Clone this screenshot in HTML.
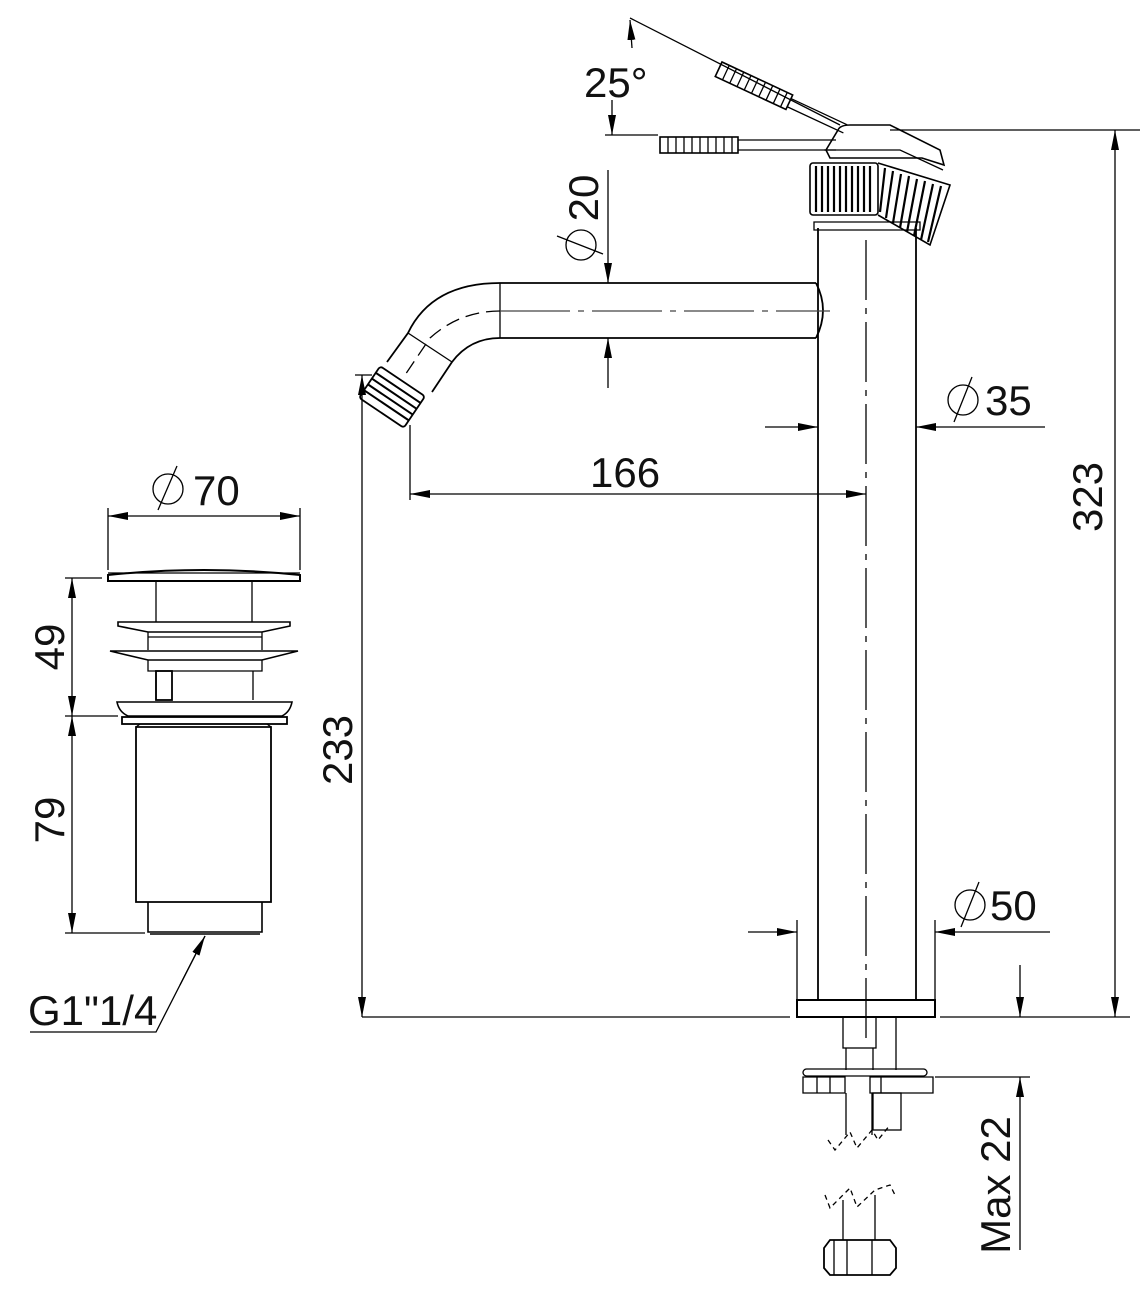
<!DOCTYPE html>
<html><head><meta charset="utf-8"><style>
html,body{margin:0;padding:0;background:#fff}
svg{display:block}
text{font-family:"Liberation Sans","DejaVu Sans",sans-serif;font-size:42px;fill:#111}
</style></head><body>
<svg width="1140" height="1292" viewBox="0 0 1140 1292" xmlns="http://www.w3.org/2000/svg">
<defs>
<marker id="a" viewBox="0 0 20 8" refX="20" refY="4" markerWidth="20" markerHeight="8" markerUnits="userSpaceOnUse" orient="auto-start-reverse"><path d="M0,0 L20,4 L0,8 Z" fill="#000"/></marker>
</defs>
<g fill="none" stroke="#000" stroke-width="1.3">

<!-- ===== Pop-up waste ===== -->
<path d="M108,581 L108,575 Q204,565 300,575 L300,581 Z" stroke-width="2"/>
<line x1="108" y1="573" x2="300" y2="573"/>
<line x1="156" y1="581" x2="156" y2="622"/><line x1="252" y1="581" x2="252" y2="622"/>
<path d="M118,622 L290,622 L290,626 L262,632 L148,632 L118,626 Z" stroke-width="1.6"/>
<path d="M148,632 L148,650 M262,632 L262,650 M148,637 L262,637"/>
<path d="M110,651 L298,651 L262,660 L148,660 Z" stroke-width="1.6"/>
<path d="M148,660 L148,671 L156,671 L156,700 M262,660 L262,671 L253,671 L253,700 M148,671 L262,671"/>
<rect x="156" y="671" width="16" height="29" stroke-width="1.8"/>
<path d="M117,702 L292,702 Q290,712 282,716 L128,716 Q119,712 117,702 Z" stroke-width="1.6"/>
<rect x="122" y="717" width="165" height="7" stroke-width="1.8"/>
<path d="M136,727 L136,902 L271,902 L271,727 Z" stroke-width="1.8"/>
<path d="M136,727 L140,724 M271,727 L267,724"/>
<path d="M148,902 L148,932 L262,932 L262,902" stroke-width="1.6"/>
<line x1="150" y1="934" x2="260" y2="934" stroke-width="1.5"/>

<!-- waste dims -->
<line x1="108" y1="508" x2="108" y2="570"/><line x1="300" y1="508" x2="300" y2="570"/>
<line x1="108" y1="516" x2="300" y2="516" marker-start="url(#a)" marker-end="url(#a)"/>
<circle cx="168" cy="489" r="15"/><line x1="158" y1="510" x2="177" y2="466"/>
<line x1="65" y1="578" x2="102" y2="578"/>
<line x1="65" y1="716" x2="118" y2="716"/>
<line x1="65" y1="933" x2="145" y2="933"/>
<line x1="72" y1="578" x2="72" y2="716" marker-start="url(#a)" marker-end="url(#a)"/>
<line x1="72" y1="716" x2="72" y2="933" marker-start="url(#a)" marker-end="url(#a)"/>
<polyline points="30,1032 156,1032 205,936"/>
<line x1="180" y1="985" x2="205" y2="936" marker-end="url(#a)"/>

<!-- ===== Tap body ===== -->
<line x1="818" y1="228" x2="818" y2="1000" stroke-width="1.8"/>
<line x1="916" y1="228" x2="916" y2="1000" stroke-width="1.8"/>
<line x1="866" y1="240" x2="866" y2="1040" stroke-dasharray="60,8,6,8"/>
<rect x="797" y="1000" width="138" height="17" stroke-width="2"/>
<path d="M814,222 L920,222 L920,230 L814,230 Z"/>
<!-- spout -->
<path d="M816,283 L500,283 Q432,283 408,333 L387,362" stroke-width="1.8"/>
<path d="M816,338 L500,338 Q470,338 452,362 L432,392" stroke-width="1.8"/>
<line x1="500" y1="283" x2="500" y2="338"/>
<line x1="408" y1="333" x2="452" y2="362"/>
<path d="M816,283 Q830,310 816,338" stroke-width="1.8"/>
<path d="M500,311 Q460,311 430,338 L405,375" stroke-dasharray="14,7"/>
<line x1="500" y1="311" x2="830" y2="311" stroke-dasharray="70,8,6,8" stroke="#444"/>
<!-- nozzle -->
<g transform="translate(392,397) rotate(34)">
<rect x="-27" y="-19" width="54" height="38" rx="3" stroke-width="1.8"/>
<path d="M-27,-11 L27,-11 M-27,-4 L27,-4 M-27,3 L27,3 M-27,10 L27,10" stroke-width="2"/>
</g>

<!-- handle -->
<path d="M838,130 Q840,125 850,125 L890,125 L940,150 L944,165 L922,158 L830,158 L826,150 Z" stroke-width="1.6"/>
<path d="M824,150 L900,150 L943,170"/>
<rect x="810" y="163" width="68" height="52" rx="3" stroke-width="1.6"/>
<path d="M878,163 L950,185 L930,245 L878,215" stroke-width="1.6"/>
<g stroke-width="2.2">
<path d="M816,166 V212 M822,166 V212 M828,166 V212 M834,166 V212 M840,166 V212 M846,166 V212 M852,166 V212 M858,166 V212 M864,166 V212 M870,166 V212"/>
<path d="M885,168 L880,212 M893,171 L886,218 M901,174 L893,223 M909,176 L900,228 M917,179 L907,232 M925,181 L914,236 M933,184 L921,240 M941,186 L928,242"/>
</g>
<rect x="660" y="137" width="78" height="16" stroke-width="1.6"/>
<path d="M668,137 V153 M676,137 V153 M684,137 V153 M692,137 V153 M700,137 V153 M708,137 V153 M716,137 V153 M724,137 V153 M732,137 V153"/>
<path d="M738,140 L836,140 M738,150 L836,150"/>
<g transform="translate(722,62) rotate(25)">
<rect x="0" y="0" width="78" height="16" stroke-width="1.6"/>
<path d="M8,0 V16 M16,0 V16 M24,0 V16 M32,0 V16 M40,0 V16 M48,0 V16 M56,0 V16 M64,0 V16 M72,0 V16"/>
<path d="M78,4 L140,4 M78,13 L140,13"/>
</g>

<!-- bottom fittings -->
<rect x="843" y="1017" width="33" height="31"/>
<path d="M846,1048 L846,1070 M873,1048 L873,1070"/>
<line x1="896" y1="1017" x2="896" y2="1070"/>
<rect x="803" y="1069" width="124" height="7" rx="3.5"/>
<path d="M803,1077 H845 V1093 H803 Z M817,1077 V1093 M830,1077 V1093"/>
<path d="M870,1077 H933 V1093 H870 Z M881,1077 V1093"/>
<path d="M846,1093 V1135 M872,1093 V1135"/>
<rect x="873" y="1093" width="28" height="37"/>
<path d="M828,1140 L835,1150 L850,1132 L857,1148 L872,1130 L878,1140 L890,1125" stroke-dasharray="5,4"/>
<path d="M825,1195 L830,1208 L850,1188 L857,1207 L875,1190 L890,1185 L895,1195" stroke-dasharray="5,4"/>
<path d="M843,1200 V1240 M875,1195 V1240"/>
<path d="M830,1240 H890 L896,1248 V1268 L890,1275 H830 L824,1268 V1248 Z" stroke-width="1.8"/>
<path d="M834,1240 V1275 M847,1240 V1275 M872,1240 V1275"/>

<!-- dims -->
<line x1="890" y1="130" x2="1140" y2="130"/>
<line x1="940" y1="1017" x2="1130" y2="1017"/>
<line x1="1115" y1="130" x2="1115" y2="1017" marker-start="url(#a)" marker-end="url(#a)"/>
<line x1="362" y1="1017" x2="790" y2="1017"/>
<line x1="362" y1="375" x2="362" y2="1017" marker-start="url(#a)" marker-end="url(#a)"/>
<line x1="355" y1="375" x2="372" y2="375"/>
<line x1="410" y1="425" x2="410" y2="500"/>
<line x1="410" y1="494" x2="866" y2="494" marker-start="url(#a)" marker-end="url(#a)"/>
<line x1="765" y1="427" x2="818" y2="427" marker-end="url(#a)"/>
<line x1="1045" y1="427" x2="916" y2="427" marker-end="url(#a)"/>
<circle cx="963" cy="400" r="15"/><line x1="972" y1="377" x2="954" y2="422"/>
<line x1="797" y1="920" x2="797" y2="1000"/><line x1="935" y1="920" x2="935" y2="1000"/>
<line x1="748" y1="932" x2="797" y2="932" marker-end="url(#a)"/>
<line x1="1050" y1="932" x2="935" y2="932" marker-end="url(#a)"/>
<circle cx="970" cy="905" r="15"/><line x1="979" y1="882" x2="961" y2="927"/>
<line x1="608" y1="170" x2="608" y2="283" marker-end="url(#a)"/>
<line x1="608" y1="388" x2="608" y2="338" marker-end="url(#a)"/>
<circle cx="581" cy="245" r="15"/><line x1="557" y1="236" x2="603" y2="254"/>
<line x1="630" y1="18" x2="840" y2="125"/>
<line x1="632" y1="48" x2="630" y2="20" marker-end="url(#a)"/>
<line x1="605" y1="135" x2="658" y2="135"/>
<line x1="612" y1="100" x2="612" y2="135" marker-end="url(#a)"/>
<line x1="935" y1="1077" x2="1030" y2="1077"/>
<line x1="1020" y1="965" x2="1020" y2="1017" marker-end="url(#a)"/>
<line x1="1020" y1="1250" x2="1020" y2="1077" marker-end="url(#a)"/>
</g>

<g>
<text x="193" y="505">70</text>
<text x="590" y="487">166</text>
<text x="985" y="415">35</text>
<text x="990" y="920">50</text>
<text x="584" y="97" font-size="40">25°</text>
<text x="28" y="1025" font-size="36">G1"1/4</text>
<text transform="translate(1102,497) rotate(-90)" text-anchor="middle">323</text>
<text transform="translate(352,750) rotate(-90)" text-anchor="middle">233</text>
<text transform="translate(64,647) rotate(-90)" text-anchor="middle">49</text>
<text transform="translate(64,820) rotate(-90)" text-anchor="middle">79</text>
<text transform="translate(598,198) rotate(-90)" text-anchor="middle">20</text>
<text transform="translate(1010,1185) rotate(-90)" text-anchor="middle" font-size="32">Max 22</text>
</g>
</svg>
</body></html>
